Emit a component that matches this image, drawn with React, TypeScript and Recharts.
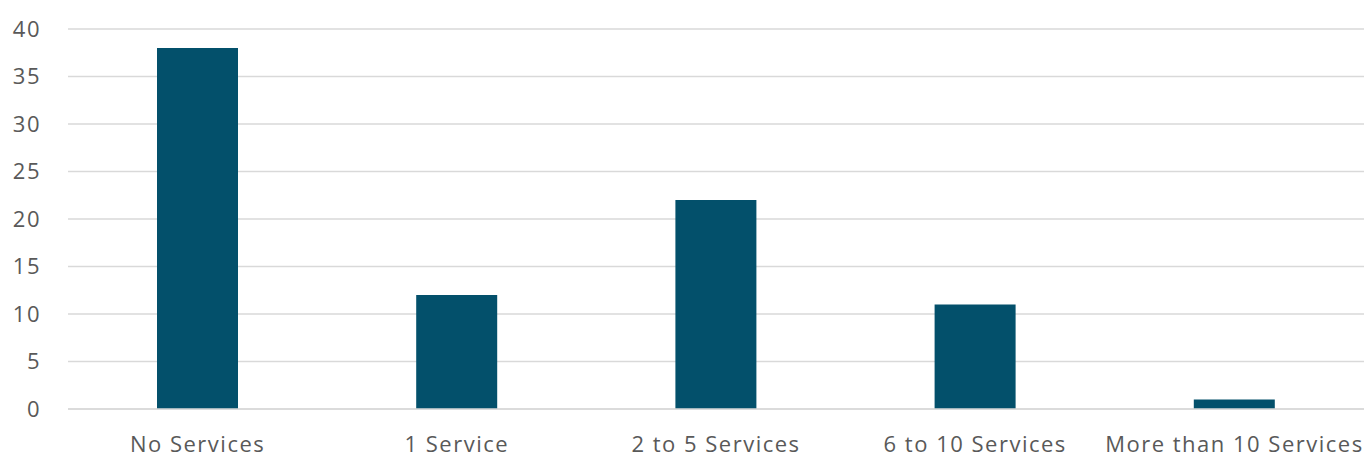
import { BarChart, Bar, XAxis, YAxis, CartesianGrid } from "recharts";

const categories = ["No Services", "1 Service", "2 to 5 Services", "6 to 10 Services", "More than 10 Services"];
const counts = [38, 12, 22, 11, 1];
const yTicks = [0, 5, 10, 15, 20, 25, 30, 35, 40];

const BAR = "#03506B";
const TXT = "#595959";
const GRID = "#D9D9D9";
const FONT = "'Open Sans', sans-serif";

export default function App() {
  const data = categories.map((name, i) => ({ name, value: counts[i] }));
  return (
    <div style={{ position: "absolute", left: 0, top: 0, width: 1364, height: 457, background: "#fff" }}>
      <BarChart width={1364} height={457} data={data} margin={{ top: 29, right: 0, left: 0, bottom: 0 }}>
        <CartesianGrid vertical={false} stroke={GRID} strokeWidth={1.5} />
        <XAxis
          dataKey="name"
          height={48}
          tickLine={false}
          axisLine={{ stroke: GRID, strokeWidth: 1.5 }}
          tickSize={0}
          tickMargin={27}
          tick={{ fill: TXT, fontSize: 22, fontFamily: FONT, letterSpacing: 1.5 }}
          interval={0}
        />
        <YAxis
          width={68}
          domain={[0, 40]}
          ticks={yTicks}
          axisLine={false}
          tickLine={false}
          tickSize={0}
          tickMargin={27}
          tick={{ fill: TXT, fontSize: 22, fontFamily: FONT, letterSpacing: 1.5 }}
        />
        <Bar dataKey="value" fill={BAR} barSize={81} isAnimationActive={false} />
      </BarChart>
    </div>
  );
}
